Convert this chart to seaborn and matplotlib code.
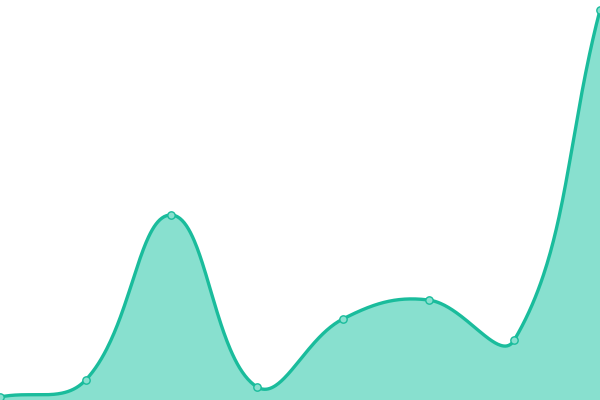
import numpy as np
import pandas as pd
import matplotlib
matplotlib.use("Agg")
import matplotlib.pyplot as plt
import seaborn as sns

# Data (y axis 0..400)
categories = [0, 1, 2, 3, 4, 5, 6, 7]
values = [3, 20, 185, 13, 81, 100, 60, 390]

LINE = "#1abc9c"
FILL = "#88e0cf"
XSCALE = 600 / 7  # pixel width of one category step (y is 1 px per unit)


def spline_curve(xs, ys, t=0.4, n=80):
    """Tension spline (Chart.js-style), computed in pixel space."""
    P = np.column_stack([np.asarray(xs, float) * XSCALE, np.asarray(ys, float)])
    m = len(P)
    cin, cout = [], []
    for i in range(m):
        prev = P[i - 1] if i > 0 else P[i]
        nxt = P[i + 1] if i < m - 1 else P[i]
        d01 = np.hypot(*(P[i] - prev))
        d12 = np.hypot(*(nxt - P[i]))
        tot = d01 + d12
        s01 = d01 / tot if tot else 0
        s12 = d12 / tot if tot else 0
        cin.append(P[i] - t * s01 * (nxt - prev))
        cout.append(P[i] + t * s12 * (nxt - prev))
    segs = []
    for i in range(m - 1):
        u = np.linspace(0, 1, n, endpoint=(i == m - 2))[:, None]
        p0, p1, p2, p3 = P[i], cout[i], cin[i + 1], P[i + 1]
        segs.append((1 - u) ** 3 * p0 + 3 * (1 - u) ** 2 * u * p1
                    + 3 * (1 - u) * u ** 2 * p2 + u ** 3 * p3)
    c = np.vstack(segs)
    return c[:, 0] / XSCALE, c[:, 1]


sx, sy = spline_curve(categories, values)
smooth = pd.DataFrame({"x": sx, "y": sy})
pts = pd.DataFrame({"x": categories, "y": values})

sns.set_style("white")
fig = plt.figure(figsize=(6, 4), dpi=100)
ax = fig.add_axes([0, 0, 1, 1])
ax.fill_between(sx, sy, 0, color=FILL, linewidth=0)
sns.lineplot(data=smooth, x="x", y="y", ax=ax, color=LINE, linewidth=2.4,
             sort=False, estimator=None)
sns.scatterplot(data=pts, x="x", y="y", ax=ax, s=28, color=FILL,
                edgecolor=LINE, linewidth=1.0, zorder=5)
ax.set_xlim(0, 7)
ax.set_ylim(0, 400)
ax.set_axis_off()
fig.savefig("out.png", dpi=100)
